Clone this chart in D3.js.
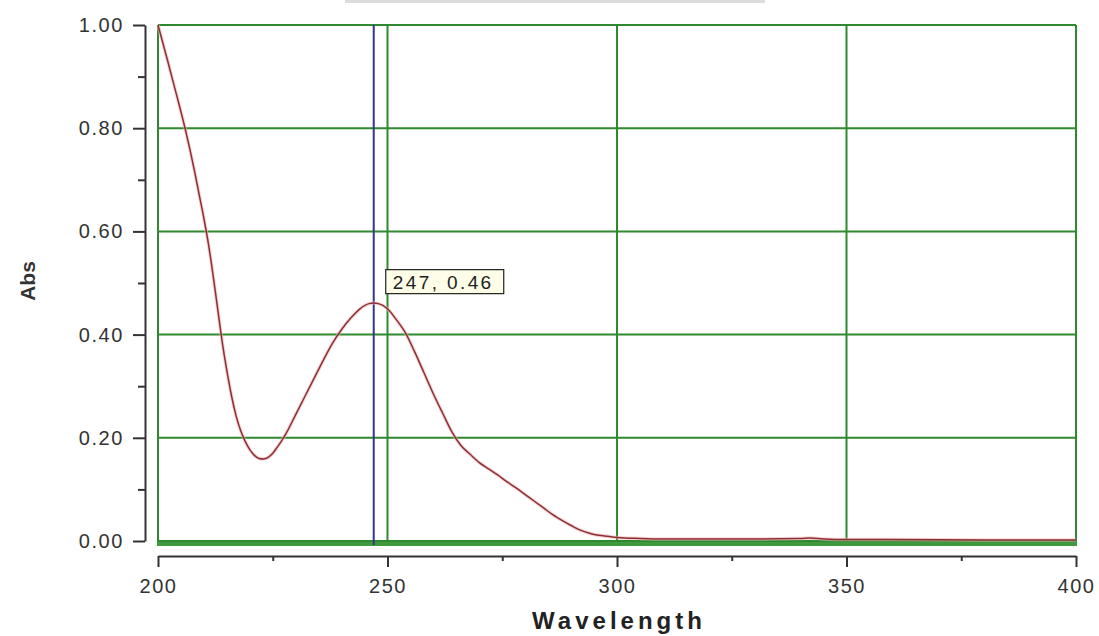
<!DOCTYPE html>
<html>
<head>
<meta charset="utf-8">
<script src="https://cdn.jsdelivr.net/npm/d3@7"></script>
<style>
  html, body { margin: 0; padding: 0; background: #fff; }
  svg { display: block; font-family: "Liberation Sans", Arial, sans-serif; }
</style>
</head>
<body>
<script>
// spectrum
const wavelength = [200, 201, 202, 203, 204, 205, 206, 207, 208, 209, 210, 211, 212, 213, 214, 215,
  216, 217, 218, 219, 220, 221, 222, 223, 224, 225, 226, 227, 228, 230, 232, 234, 236, 238, 240,
  242, 244, 246, 247, 248, 250, 252, 254, 256, 258, 260, 262, 264, 266, 268, 270, 272, 274, 276,
  278, 280, 282, 284, 286, 288, 290, 292, 294, 296, 298, 300, 305, 310, 320, 330, 340, 342, 345,
  350, 360, 380, 400];
const absorbance = [1.0, 0.967, 0.934, 0.9, 0.866, 0.832, 0.796, 0.757, 0.715, 0.67, 0.625, 0.575,
  0.515, 0.45, 0.385, 0.33, 0.282, 0.243, 0.214, 0.193, 0.177, 0.166, 0.16, 0.159, 0.162, 0.17,
  0.182, 0.195, 0.21, 0.245, 0.28, 0.315, 0.35, 0.383, 0.41, 0.432, 0.45, 0.46, 0.461, 0.46, 0.45,
  0.428, 0.402, 0.365, 0.325, 0.285, 0.248, 0.212, 0.185, 0.168, 0.152, 0.14, 0.128, 0.115, 0.103,
  0.09, 0.077, 0.064, 0.051, 0.04, 0.03, 0.021, 0.015, 0.011, 0.009, 0.007, 0.005, 0.004, 0.004,
  0.004, 0.005, 0.006, 0.004, 0.003, 0.003, 0.002, 0.002];

const xTicks = [200, 250, 300, 350, 400];
const xMinor = [225, 275, 325, 375];
const yTicks = [0, 0.2, 0.4, 0.6, 0.8, 1.0];
const yMinor = [0.1, 0.3, 0.5, 0.7, 0.9];
const cursor = { x: 247, y: 0.46, label: "247, 0.46" };

const W = 1099, H = 636;
const m = { left: 158, right: 1076, top: 25, bottom: 541 };

const svg = d3.select("body").append("svg").attr("width", W).attr("height", H);

const x = d3.scaleLinear().domain([200, 400]).range([m.left, m.right]);
const y = d3.scaleLinear().domain([0, 1]).range([m.bottom, m.top]);

// grey strip at the very top of the screenshot
svg.append("rect").attr("x", 345).attr("y", 0).attr("width", 420).attr("height", 3).attr("fill", "#dcdcdc");

// grid
const grid = svg.append("g").attr("stroke", "#2f8a2f").attr("stroke-width", 2).attr("fill", "none");
grid.selectAll("line.v")
  .data(xTicks)
  .join("line")
  .attr("class", "v")
  .attr("x1", (d) => x(d)).attr("x2", (d) => x(d))
  .attr("y1", m.top).attr("y2", m.bottom + 4);
grid.selectAll("line.h")
  .data(yTicks)
  .join("line")
  .attr("class", "h")
  .attr("x1", m.left).attr("x2", m.right)
  .attr("y1", (d) => y(d)).attr("y2", (d) => y(d));
grid.append("line")
  .attr("x1", m.left - 1).attr("x2", m.right + 1)
  .attr("y1", m.bottom + 3).attr("y2", m.bottom + 3)
  .attr("stroke", "#3f9a3f")
  .attr("stroke-width", 4);

// cursor line
svg.append("line")
  .attr("x1", x(cursor.x)).attr("x2", x(cursor.x))
  .attr("y1", m.top).attr("y2", m.bottom + 4)
  .attr("stroke", "#35358f").attr("stroke-width", 2);

// curve
const line = d3.line()
  .x((d, i) => x(wavelength[i]))
  .y((d) => y(d))
  .curve(d3.curveMonotoneX);

svg.append("path")
  .datum(absorbance)
  .attr("d", line)
  .attr("fill", "none")
  .attr("stroke", "#f2b5b5")
  .attr("stroke-width", 3.5)
  .attr("stroke-opacity", 0.6);
svg.append("path")
  .datum(absorbance)
  .attr("d", line)
  .attr("fill", "none")
  .attr("stroke", "#8a2f35")
  .attr("stroke-width", 1.5);

// cursor label
const lab = svg.append("g").attr("transform", `translate(${x(cursor.x) + 12},${y(cursor.y) - 34})`);
lab.append("rect")
  .attr("width", 118).attr("height", 24)
  .attr("fill", "#fdfde8").attr("stroke", "#222").attr("stroke-width", 1.2);
lab.append("text")
  .attr("x", 7).attr("y", 19)
  .attr("font-size", 19).attr("letter-spacing", 2.4).attr("fill", "#222")
  .text(cursor.label);

// axes
const axisColor = "#333";
const yAxis = svg.append("g").attr("transform", `translate(${m.left - 13},0)`);
yAxis.call(d3.axisLeft(y).tickValues(yTicks).tickSize(12).tickSizeOuter(0).tickPadding(9).tickFormat(d3.format(".2f")));
yAxis.append("g").call(d3.axisLeft(y).tickValues(yMinor).tickSize(7).tickFormat(""))
  .select(".domain").remove();

const xAxis = svg.append("g").attr("transform", `translate(0,${m.bottom + 15})`);
xAxis.call(d3.axisBottom(x).tickValues(xTicks).tickSize(11).tickSizeOuter(0).tickPadding(12).tickFormat(d3.format("d")));
xAxis.append("g").call(d3.axisBottom(x).tickValues(xMinor).tickSize(5).tickFormat(""))
  .select(".domain").remove();

svg.selectAll(".domain, .tick line").attr("stroke", axisColor).attr("stroke-width", 2);
svg.selectAll(".tick text").attr("fill", "#333").attr("font-size", 20).attr("letter-spacing", 1.6)
  .attr("font-family", "'Liberation Sans', Arial, sans-serif");

// titles
svg.append("text")
  .attr("x", (m.left + m.right) / 2 + 2).attr("y", 629)
  .attr("text-anchor", "middle")
  .attr("font-size", 24).attr("font-weight", "bold").attr("fill", "#222")
  .attr("letter-spacing", 4)
  .text("Wavelength");

svg.append("text")
  .attr("transform", "translate(35,281) rotate(-90)")
  .attr("text-anchor", "middle")
  .attr("font-size", 21).attr("font-weight", "bold").attr("fill", "#333")
  .text("Abs");
</script>
</body>
</html>
